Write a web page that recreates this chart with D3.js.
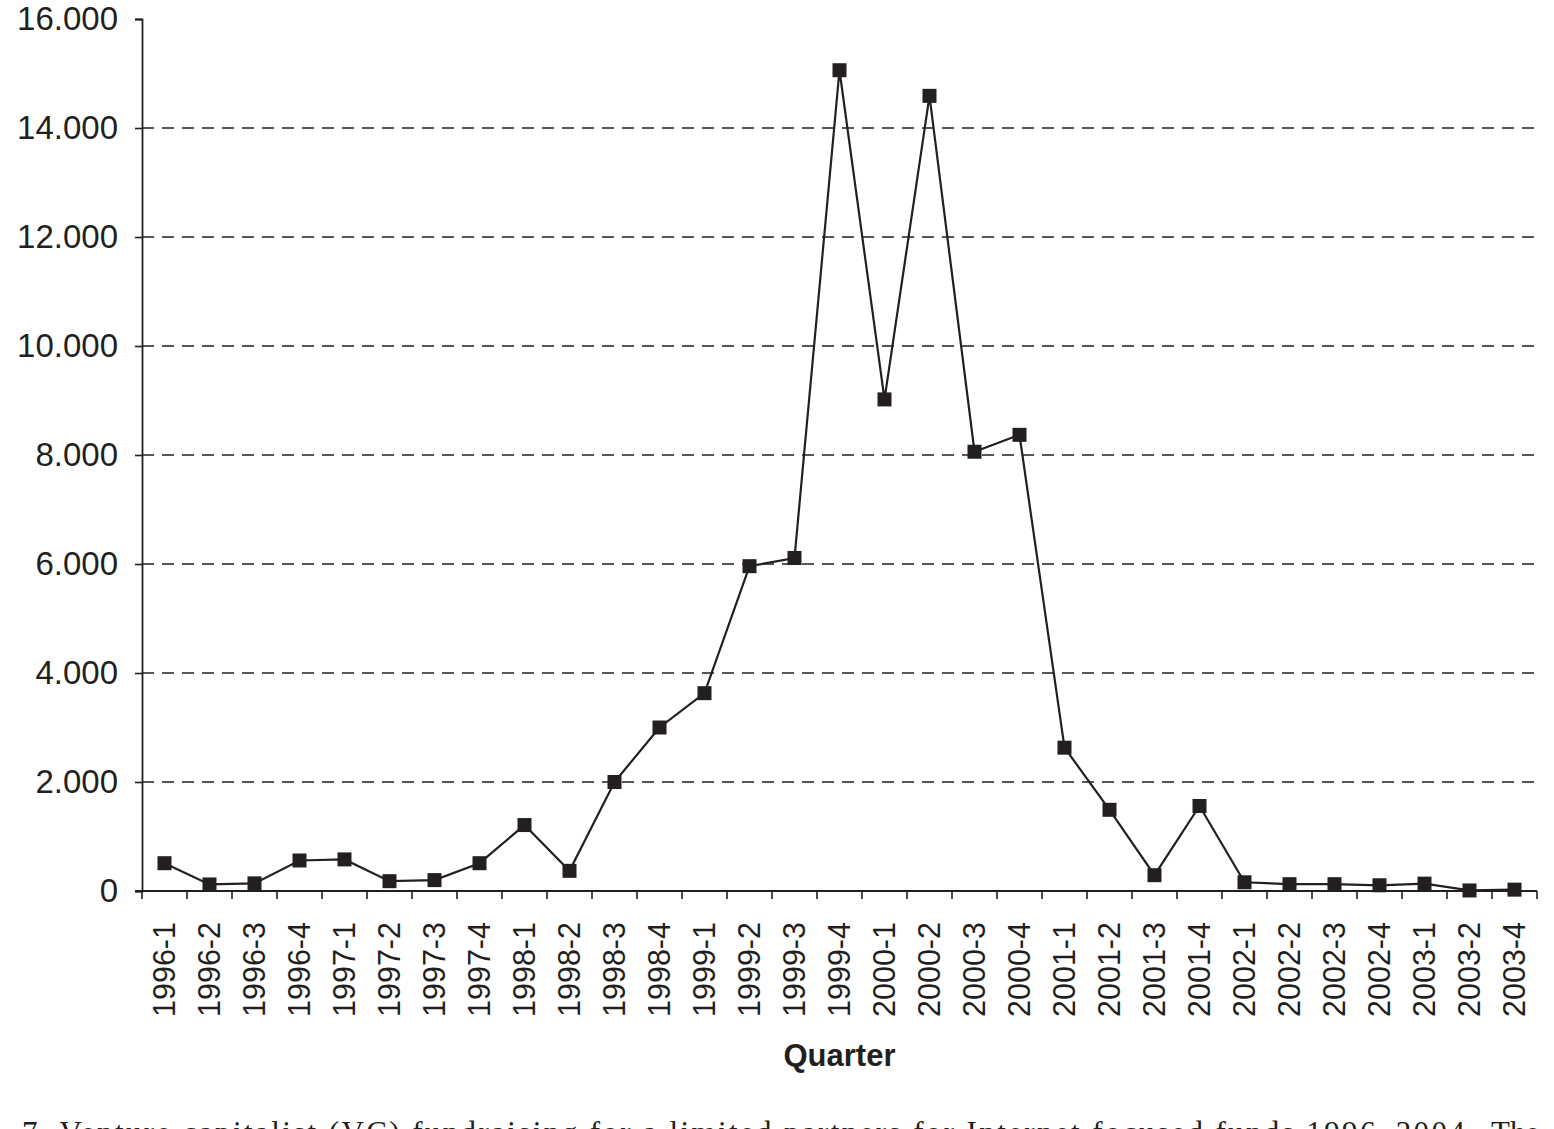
<!DOCTYPE html>
<html>
<head>
<meta charset="utf-8">
<script src="https://cdn.jsdelivr.net/npm/d3@7"></script>
<style>
	html, body { margin: 0; padding: 0; background: #fff; overflow: hidden; }
	svg { display: block; }
</style>
</head>
<body>
<div id="chart"></div>
<script>
// quarters (2003-3 is absent in the source)
var quarters = ["1996-1","1996-2","1996-3","1996-4","1997-1","1997-2","1997-3","1997-4",
	"1998-1","1998-2","1998-3","1998-4","1999-1","1999-2","1999-3","1999-4",
	"2000-1","2000-2","2000-3","2000-4","2001-1","2001-2","2001-3","2001-4",
	"2002-1","2002-2","2002-3","2002-4","2003-1","2003-2","2003-4"];
var fundsRaised = [510, 120, 140, 560, 580, 180, 200, 510,
	1210, 370, 2000, 3000, 3630, 5960, 6110, 15060,
	9020, 14590, 8060, 8370, 2630, 1490, 290, 1560,
	160, 125, 125, 105, 135, 10, 25];
var yTicks = [0, 2000, 4000, 6000, 8000, 10000, 12000, 14000, 16000];
var xTitle = "Quarter";
var caption = "7. Venture capitalist (VC) fundraising for a limited partners for Internet focused funds 1996\u20132004.";
var captionTail = "The";

(function(){
	var W = 1554, H = 1129;
	var ink = "#231f20";
	var left = 142, right = 1537, top = 19, bottom = 891;

	var svg = d3.select("#chart").append("svg")
		.attr("width", W).attr("height", H);

	var x = d3.scaleBand().domain(quarters).range([left, right]).padding(0);
	var y = d3.scaleLinear().domain([0, 16000]).range([bottom, top]);

	// dashed grid lines
	svg.append("g").selectAll("line")
		.data(yTicks.filter(function(d){ return d > 0 && d < 16000; }))
		.enter().append("line")
		.attr("x1", left).attr("x2", right)
		.attr("y1", function(d){ return y(d); })
		.attr("y2", function(d){ return y(d); })
		.attr("stroke", ink)
		.attr("stroke-width", 1.3)
		.attr("stroke-dasharray", "12,8");

	// y axis
	var yAxis = d3.axisLeft(y).tickValues(yTicks).tickSize(7).tickPadding(17)
		.tickFormat(function(d){ return d === 0 ? "0" : d3.format(".3f")(d / 1000); });
	var gy = svg.append("g").attr("transform", "translate(" + left + ",0)").call(yAxis);
	gy.select(".domain").attr("stroke", ink).attr("stroke-width", 1.8);
	gy.selectAll(".tick line").attr("stroke", ink).attr("stroke-width", 1.6);
	gy.selectAll(".tick text")
		.attr("fill", ink)
		.style("font-family", "'Liberation Sans', Arial, sans-serif")
		.style("font-size", "33px");

	// x axis: ticks at band boundaries
	var gx = svg.append("g").attr("transform", "translate(0," + bottom + ")");
	gx.append("line").attr("x1", left - 7).attr("x2", right)
		.attr("stroke", ink).attr("stroke-width", 1.8);
	var bounds = quarters.map(function(q){ return x(q); }).concat([right]);
	gx.selectAll("line.tk").data(bounds).enter().append("line")
		.attr("class", "tk")
		.attr("x1", function(d){ return d; }).attr("x2", function(d){ return d; })
		.attr("y1", 0).attr("y2", 8)
		.attr("stroke", ink).attr("stroke-width", 1.6);
	gx.selectAll("text").data(quarters).enter().append("text")
		.attr("transform", function(d){
			return "translate(" + (x(d) + x.bandwidth() / 2) + ",31) rotate(-90)";
		})
		.attr("text-anchor", "end")
		.attr("dy", "0.36em")
		.attr("fill", ink)
		.style("font-family", "'Liberation Sans', Arial, sans-serif")
		.style("font-size", "30.5px")
		.text(function(d){ return d; });

	// axis title
	svg.append("text")
		.attr("x", (left + right) / 2).attr("y", 1066)
		.attr("text-anchor", "middle")
		.attr("fill", ink)
		.style("font-family", "'Liberation Sans', Arial, sans-serif")
		.style("font-weight", "bold")
		.style("font-size", "31px")
		.text(xTitle);

	// series line
	var line = d3.line()
		.x(function(d, i){ return x(quarters[i]) + x.bandwidth() / 2; })
		.y(function(d){ return y(d); });
	svg.append("path").datum(fundsRaised)
		.attr("d", line)
		.attr("fill", "none")
		.attr("stroke", ink)
		.attr("stroke-width", 2.2)
		.attr("stroke-linejoin", "miter");

	// square markers
	var m = 14;
	svg.append("g").selectAll("rect").data(fundsRaised).enter().append("rect")
		.attr("x", function(d, i){ return x(quarters[i]) + x.bandwidth() / 2 - m / 2; })
		.attr("y", function(d){ return y(d) - m / 2; })
		.attr("width", m).attr("height", m)
		.attr("fill", ink);

	// figure caption, cut by the bottom edge as in the source page
	svg.append("text")
		.attr("x", 22).attr("y", 1143)
		.attr("textLength", 1453).attr("lengthAdjust", "spacing")
		.attr("fill", ink)
		.style("font-family", "'Liberation Serif', 'Times New Roman', serif")
		.style("font-size", "31px")
		.text(caption);
	svg.append("text")
		.attr("x", 1491).attr("y", 1143)
		.attr("fill", ink)
		.style("font-family", "'Liberation Serif', 'Times New Roman', serif")
		.style("font-size", "31px")
		.text(captionTail);
})();
</script>
</body>
</html>
